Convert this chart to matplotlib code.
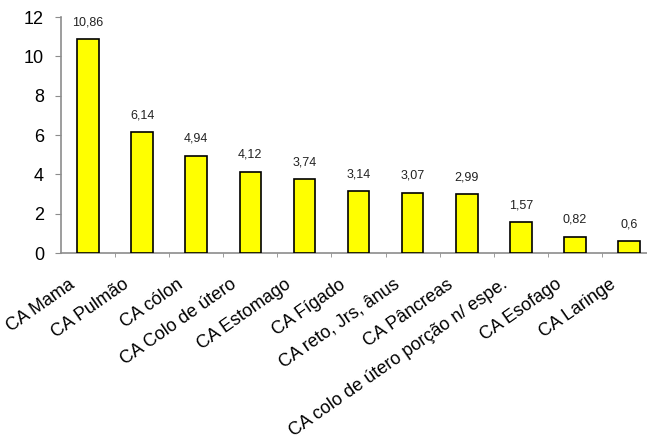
import numpy as np
import matplotlib.pyplot as plt
from matplotlib.transforms import ScaledTranslation

categories = ['CA Mama', 'CA Pulmão', 'CA cólon', 'CA Colo de útero', 'CA Estomago',
              'CA Fígado', 'CA reto, Jrs, ânus', 'CA Pâncreas',
              'CA colo de útero porção n/ espe.', 'CA Esofago', 'CA Laringe']
values = [10.86, 6.14, 4.94, 4.12, 3.74, 3.14, 3.07, 2.99, 1.57, 0.82, 0.6]
value_labels = ['10,86', '6,14', '4,94', '4,12', '3,74', '3,14', '3,07', '2,99', '1,57', '0,82', '0,6']

plt.rcParams['font.family'] = ['Liberation Sans', 'DejaVu Sans']
axis_color = '#8c8c8c'

fig = plt.figure(figsize=(6.47, 4.43), dpi=100)
# axis runs past the right edge of the picture, like the original
ax = fig.add_axes([61 / 647, 190 / 443, 595 / 647, 236 / 443])

x = np.arange(len(categories))
ax.bar(x, values, width=0.4, color='#ffff00', edgecolor='black', linewidth=1.2, zorder=3)

for xi, v, lab in zip(x, values, value_labels):
    ax.annotate(lab, (xi, v), xytext=(0, 8), textcoords='offset points',
                ha='center', va='bottom', fontsize=9, color='#222222')

ax.set_xlim(-0.5, len(categories) - 0.5)
ax.set_ylim(0, 12)
ax.set_yticks(range(0, 13, 2))
ax.tick_params(axis='y', labelsize=13, colors=axis_color, labelcolor='black',
               length=4.3, pad=8, direction='out')

ax.set_xticks(x)
ax.set_xticklabels(categories, rotation=35, ha='right', va='top', rotation_mode='anchor',
                   fontsize=13)
ax.set_xticks(np.arange(len(categories)) + 0.5, minor=True)
ax.tick_params(axis='x', which='major', length=0, pad=16.5)
ax.tick_params(axis='x', which='minor', length=3, colors=axis_color, direction='out')

# shift the slanted labels a bit to the left of the bar centres
shift = ScaledTranslation(-0.2, 0, fig.dpi_scale_trans)
for lab in ax.get_xticklabels():
    lab.set_transform(lab.get_transform() + shift)

for side in ['top', 'right']:
    ax.spines[side].set_visible(False)
for side in ['left', 'bottom']:
    ax.spines[side].set_color(axis_color)
    ax.spines[side].set_linewidth(1.2)

fig.savefig('out.png', dpi=100)
plt.close()
